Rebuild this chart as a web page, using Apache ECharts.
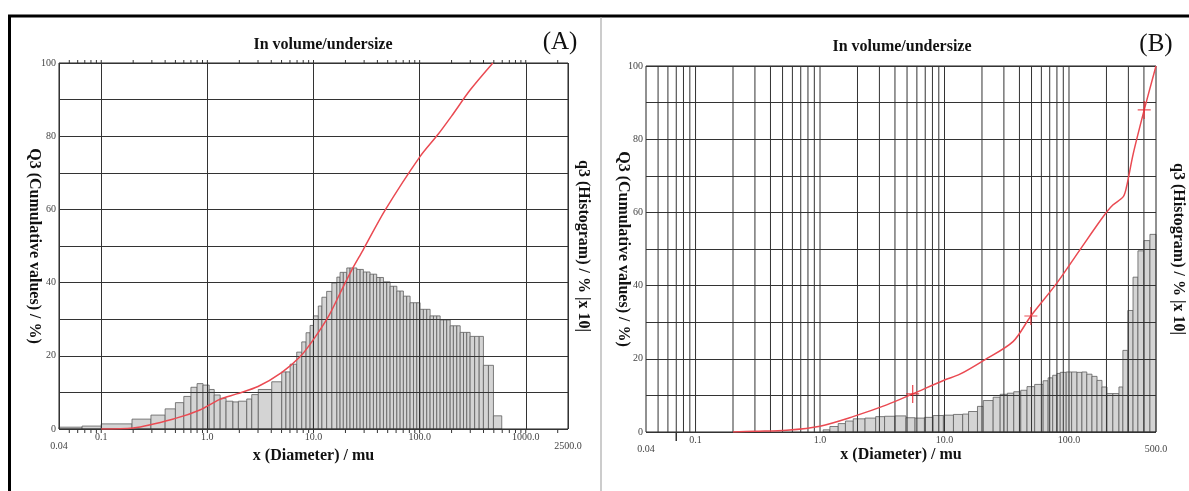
<!DOCTYPE html>
<html>
<head>
<meta charset="utf-8">
<script src="https://cdn.jsdelivr.net/npm/echarts@6/dist/echarts.min.js"></script>
<style>
  html, body { margin: 0; padding: 0; background: #fff; }
  #chart { width: 1189px; height: 491px; }
</style>
</head>
<body>
<div id="chart"></div>
<script>
// ---- Panel A: histogram bins (edges in µm) and q3 heights ----
const edgesA = [0.04, 0.066, 0.1, 0.195, 0.294, 0.40, 0.50, 0.60, 0.70, 0.80, 0.91, 1.04, 1.16, 1.32, 1.50, 1.74,
  1.96, 2.35, 2.62, 3.02, 4.04, 5.02, 5.5, 6.02, 6.47, 6.95, 7.75, 8.51, 9.29, 9.98, 11.1, 12.0, 13.3, 14.9, 16.6,
  17.8, 19.1, 20.6, 22.1, 23.8, 25.6, 27.5, 29.5, 31.7, 34.1, 36.7, 39.4, 42.4, 45.6, 49, 52.7, 56.7, 61, 65.5,
  70.3, 75.6, 81.3, 87.5, 94, 101, 108.5, 116.7, 125.5, 135, 145, 156, 168, 180, 194, 208, 224, 241, 259, 278, 299,
  330, 364, 399, 445, 496, 594];
const q3A = [0.5, 0.8, 1.4, 2.7, 3.8, 5.5, 7.2, 8.9, 11.4, 12.4, 12.0, 10.8, 9.3, 8.4, 7.6, 7.4, 7.6, 8.2, 9.4,
  10.8, 12.9, 15.6, 15.6, 17.7, 17.7, 21, 23.8, 26.3, 28.3, 30.9, 33.6, 36, 37.6, 39.9, 41.5, 42.8, 42.8, 44, 44,
  44, 43.6, 43.6, 42.9, 42.9, 42.3, 42.3, 41.4, 41.4, 40.2, 40.2, 39, 39, 37.7, 37.7, 36.3, 36.3, 34.5, 34.5, 34.5,
  32.7, 32.7, 32.7, 30.9, 30.9, 30.9, 29.8, 29.8, 29.8, 28.2, 28.2, 28.2, 26.4, 26.4, 26.4, 25.3, 25.3, 25.3,
  17.4, 17.4, 3.6];

// Panel A: cumulative undersize curve Q3
const sizeA = [0.1, 0.2, 0.5, 0.85, 1.31, 1.89, 3.0, 5.0, 7.5, 9.9, 13.8, 17.8, 22.9, 29.3, 47.3, 100, 150, 200, 299, 490];
const cumA  = [0, 0.3, 2.9, 5.2, 8.1, 9.6, 11.6, 15.4, 19.8, 24.3, 30.7, 37.1, 43.4, 48.9, 59.8, 74.3, 80.6, 85.5, 92.6, 100];

// ---- Panel B ----
const edgesB = [1.06, 1.2, 1.4, 1.6, 1.85, 2.3, 2.8, 3.3, 4.0, 4.9, 5.8, 6.9, 8.1, 9.8, 11.8, 14, 15.6, 18.4, 20.5,
  24.6, 28, 32, 36, 41, 46, 53, 62, 68, 74, 80, 85, 95, 105, 116, 127, 139, 153, 168, 184, 202, 225, 252, 271, 297,
  327, 358, 400, 447, 500];
const q3B = [0.6, 1.5, 2.3, 3.0, 3.6, 3.8, 4.2, 4.3, 4.4, 3.9, 3.8, 4.0, 4.5, 4.6, 4.8, 4.9, 5.6, 7.0, 8.6, 9.5,
  10.3, 10.6, 11.0, 11.4, 12.4, 13.0, 14.0, 14.8, 15.5, 16.0, 16.3, 16.4, 16.4, 16.3, 16.4, 15.8, 15.2, 14.1, 12.3,
  10.5, 10.5, 12.3, 22.3, 33.2, 42.3, 49.5, 52.3, 54];

const sizeB = [0.2, 0.3, 0.54, 1.0, 1.84, 3.43, 5.55, 10, 13.3, 20.5, 35.5, 49.4, 79.6, 122, 188, 225, 273, 290, 328, 402, 500];
const cumB  = [0, 0.2, 0.5, 1.6, 4.2, 7.4, 10.4, 14.2, 15.8, 19.5, 24.7, 31.7, 40.6, 49.7, 58.8, 62, 64.3, 67, 76, 88, 100];

// characteristic points marked on curve B
const markSizeB = [5.55, 49.4, 402];
const markCumB  = [10.4, 31.7, 88];

// axis ranges and tick labels
const rangeA = [0.04, 2500];
const rangeB = [0.04, 500];
const tickLabelsA = ['0.04', '0.1', '1.0', '10.0', '100.0', '1000.0', '2500.0'];
const tickValuesA = [0.04, 0.1, 1, 10, 100, 1000, 2500];
const tickLabelsB = ['0.04', '0.1', '1.0', '10.0', '100.0', '500.0'];
const tickValuesB = [0.04, 0.1, 1, 10, 100, 500];

// log sub-divisions 1..9 of each decade, used for minor ticks / grid lines
function logSubdivisions(lo, hi) {
  const out = [];
  for (let e = -2; e <= 4; e++) {
    for (let m = 1; m <= 9; m++) {
      const v = +(m * Math.pow(10, e)).toPrecision(3);
      if (v > lo * 1.0001 && v < hi * 0.9999) out.push(v);
    }
  }
  return out;
}
const minorA = logSubdivisions(rangeA[0], rangeA[1]);
const gridB = logSubdivisions(rangeB[0], rangeB[1]);
const extraTickB = [0.07];

const SERIF = 'Liberation Serif';
const LINE_RED = '#ea4a52';

function labelFormatter(values, labels, range) {
  return function (v) {
    let idx = -1;
    for (let i = 0; i < values.length; i++) {
      if (Math.abs(Math.log10(v) - Math.log10(values[i])) < 1e-4) { idx = i; break; }
    }
    if (idx < 0) return '';
    const s = labels[idx];
    const edge = Math.abs(Math.log10(v) - Math.log10(range[0])) < 1e-4 ||
                 Math.abs(Math.log10(v) - Math.log10(range[1])) < 1e-4;
    return edge ? '{e|' + s + '}' : s;
  };
}

function xAxisDef(gridIndex, range, values, labels, nameGap) {
  return {
    type: 'log', gridIndex: gridIndex, min: range[0], max: range[1], logBase: 10, z: 3,
    axisLine: { show: false }, axisTick: { show: false },
    splitLine: { show: gridIndex === 0, lineStyle: { color: '#333', width: 1 } },
    axisLabel: {
      show: true, margin: 3, color: '#444', fontFamily: SERIF, fontSize: 10,
      showMinLabel: true, showMaxLabel: true,
      formatter: labelFormatter(values, labels, range),
      rich: { e: { padding: [9, 0, 0, 0], color: '#444', fontFamily: SERIF, fontSize: 10 } }
    },
    name: 'x (Diameter) / mu', nameLocation: 'middle', nameGap: nameGap, nameMoveOverlap: false,
    nameTextStyle: { fontFamily: SERIF, fontWeight: 'bold', fontSize: 16, color: '#111' }
  };
}

function yLeftDef(gridIndex, nameGap) {
  return {
    type: 'value', gridIndex: gridIndex, min: 0, max: 100, interval: 10, z: 3,
    axisLine: { show: false }, axisTick: { show: false },
    splitLine: { show: true, lineStyle: { color: '#333', width: 1 } },
    axisLabel: {
      margin: 3, color: '#444', fontFamily: SERIF, fontSize: 10, verticalAlign: 'middle',
      padding: [0, 0, 6, 0],
      formatter: v => (v % 20 === 0 ? String(v) : '')
    },
    name: 'Q3 (Cumulative values) / %)', nameLocation: 'middle', nameRotate: -90, nameGap: nameGap,
    nameMoveOverlap: false,
    nameTextStyle: { fontFamily: SERIF, fontWeight: 'bold', fontSize: 16, color: '#111' }
  };
}

function yRightDef(gridIndex, nameGap) {
  return {
    type: 'value', gridIndex: gridIndex, position: 'right', min: 0, max: 100, z: 3,
    axisLine: { show: false }, axisTick: { show: false }, splitLine: { show: false },
    axisLabel: { show: false },
    name: 'q3 (Histogram) / % |x 10|', nameLocation: 'middle', nameRotate: -90, nameGap: nameGap,
    nameMoveOverlap: false,
    nameTextStyle: { fontFamily: SERIF, fontWeight: 'bold', fontSize: 16, color: '#111' }
  };
}

function binSeries(xi, yi, edges, heights) {
  return {
    type: 'custom', xAxisIndex: xi, yAxisIndex: yi, z: 2, silent: true,
    encode: { x: [0, 1], y: 2 },
    data: heights.map((h, i) => [edges[i], edges[i + 1], h]),
    renderItem: function (params, api) {
      const a = api.coord([api.value(0), api.value(2)]);
      const b = api.coord([api.value(1), 0]);
      return {
        type: 'rect',
        shape: { x: a[0], y: a[1], width: b[0] - a[0], height: b[1] - a[1] },
        style: { fill: '#d4d4d4', stroke: '#5e5e5e', lineWidth: 0.8 }
      };
    }
  };
}

// short tick marks (dir = 1 below the bottom edge, -1 above the top edge)
function tickSeries(xi, yi, values, atY, len, dir, width) {
  return {
    type: 'custom', xAxisIndex: xi, yAxisIndex: yi, z: 4, silent: true, clip: false,
    encode: { x: 0, y: 1 },
    data: values.map(v => [v, atY]),
    renderItem: function (params, api) {
      const p = api.coord([api.value(0), api.value(1)]);
      return {
        type: 'line',
        shape: { x1: p[0], y1: p[1], x2: p[0], y2: p[1] + dir * len },
        style: { stroke: '#333', lineWidth: width }
      };
    }
  };
}

// full-height vertical grid lines
function gridLineSeries(xi, yi, values) {
  return {
    type: 'custom', xAxisIndex: xi, yAxisIndex: yi, z: 3, silent: true,
    encode: { x: 0, y: 1 },
    data: values.map(v => [v, 0]),
    renderItem: function (params, api) {
      const p0 = api.coord([api.value(0), 0]);
      const p1 = api.coord([api.value(0), 100]);
      return {
        type: 'line',
        shape: { x1: p0[0], y1: p0[1], x2: p1[0], y2: p1[1] },
        style: { stroke: '#333', lineWidth: 1 }
      };
    }
  };
}

function curveSeries(xi, yi, xs, ys) {
  return {
    type: 'line', xAxisIndex: xi, yAxisIndex: yi, z: 6, silent: true,
    data: xs.map((x, i) => [x, ys[i]]),
    smooth: 0.3, showSymbol: false,
    lineStyle: { color: LINE_RED, width: 1.5 }
  };
}

const chart = echarts.init(document.getElementById('chart'), null, { renderer: 'canvas' });

const option = {
  animation: false,
  backgroundColor: '#ffffff',
  grid: [
    { left: 59, top: 63, width: 509, height: 366, show: true, borderColor: '#222', borderWidth: 1, z: 3, containLabel: false },
    { left: 646, top: 66, width: 510, height: 366, show: true, borderColor: '#222', borderWidth: 1, z: 3, containLabel: false }
  ],
  xAxis: [
    xAxisDef(0, rangeA, tickValuesA, tickLabelsA, 19),
    xAxisDef(1, rangeB, tickValuesB, tickLabelsB, 15)
  ],
  yAxis: [
    yLeftDef(0, 17),
    yRightDef(0, 7),
    yLeftDef(1, 15),
    yRightDef(1, 14)
  ],
  series: [
    binSeries(0, 1, edgesA, q3A),
    tickSeries(0, 0, minorA, 0, 4, 1, 1),
    tickSeries(0, 0, minorA, 100, 3, -1, 1),
    curveSeries(0, 0, sizeA, cumA),

    binSeries(1, 3, edgesB, q3B),
    gridLineSeries(1, 2, gridB),
    tickSeries(1, 2, extraTickB, 0, 9, 1, 1.5),
    curveSeries(1, 2, sizeB, cumB),
    {
      type: 'scatter', xAxisIndex: 1, yAxisIndex: 2, z: 7, silent: true,
      data: markSizeB.map((x, i) => [x, markCumB[i]]),
      symbol: 'path://M5.4,0H6.6V8.4H12V9.6H6.6V18H5.4V9.6H0V8.4H5.4Z',
      symbolSize: [13, 18],
      itemStyle: { color: '#e3262e' }
    }
  ],
  graphic: [
    // outer frame and panel divider
    { type: 'line', silent: true, shape: { x1: 8, y1: 16, x2: 1189, y2: 16 }, style: { stroke: '#000', lineWidth: 3 } },
    { type: 'line', silent: true, shape: { x1: 9.5, y1: 15, x2: 9.5, y2: 491 }, style: { stroke: '#000', lineWidth: 3 } },
    { type: 'line', silent: true, shape: { x1: 601, y1: 17, x2: 601, y2: 491 }, style: { stroke: '#aaa', lineWidth: 1.2 } },
    // panel titles and letters
    { type: 'text', silent: true, x: 323, y: 45, style: { text: 'In volume/undersize', fontFamily: SERIF, fontWeight: 'bold', fontSize: 16, fill: '#111', align: 'center', verticalAlign: 'middle' } },
    { type: 'text', silent: true, x: 902, y: 47, style: { text: 'In volume/undersize', fontFamily: SERIF, fontWeight: 'bold', fontSize: 16, fill: '#111', align: 'center', verticalAlign: 'middle' } },
    { type: 'text', silent: true, x: 560, y: 42, style: { text: '(A)', fontFamily: SERIF, fontSize: 25, fill: '#111', align: 'center', verticalAlign: 'middle' } },
    { type: 'text', silent: true, x: 1156, y: 44, style: { text: '(B)', fontFamily: SERIF, fontSize: 25, fill: '#111', align: 'center', verticalAlign: 'middle' } }
  ]
};

chart.setOption(option);
</script>
</body>
</html>
